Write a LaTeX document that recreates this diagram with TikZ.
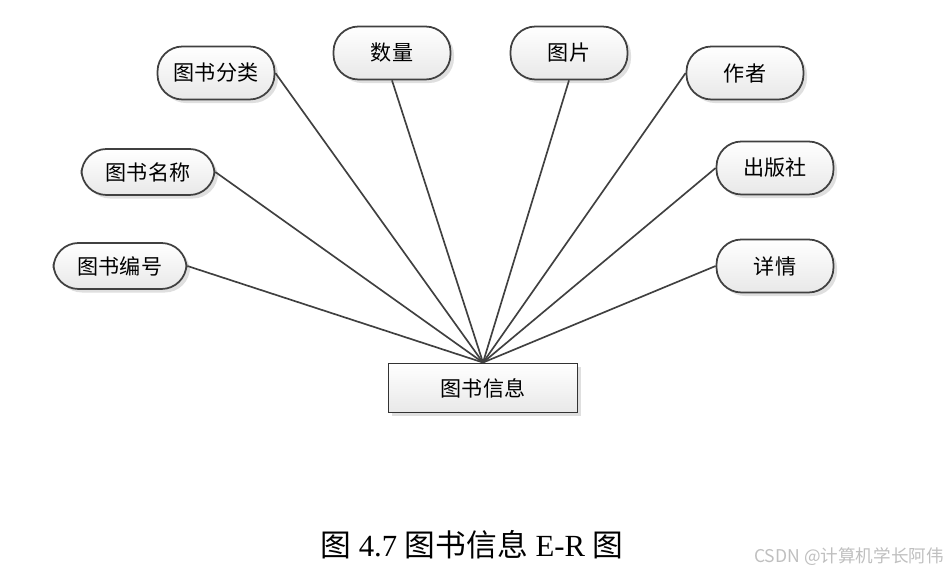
\documentclass[tikz,border=0pt]{standalone}
\usepackage{fontspec}
\setmainfont{Liberation Serif}
\newfontfamily\cjk{Noto Sans CJK SC}
\usepackage{tikz}
\usetikzlibrary{shadows}

\begin{document}
\begin{tikzpicture}[
    x=0.02cm, y=-0.02cm, % one unit is one pixel of the reference
    attr/.style={
        draw=black!75, % dark outline
        line width=1pt,
        rounded corners=0.5cm, % round ends of the attribute boxes
        top color=white, bottom color=black!9, % soft vertical shading
        drop shadow={shadow xshift=2pt, shadow yshift=-2pt, opacity=0.25},
        minimum width=2.34cm, minimum height=1.06cm,
        font=\cjk\fontsize{12}{14}\selectfont
    },
    entity/.style={
        draw=black!80,
        line width=1.1pt,
        top color=white, bottom color=black!9,
        drop shadow={shadow xshift=2pt, shadow yshift=-2pt, opacity=0.25},
        minimum width=3.78cm, minimum height=0.98cm,
        font=\cjk\fontsize{12}{14}\selectfont
    },
    link/.style={draw=black!75, line width=0.95pt}
]
\useasboundingbox (0,0) rectangle (948,574);

% entity
\node[entity] (info) at (483,388) {图书信息};

% attributes
\node[attr] (fenlei) at (216,73) {图书分类};
\node[attr] (shuliang) at (392,53) {数量};
\node[attr] (tupian) at (569,53) {图片};
\node[attr] (zuozhe) at (745,73) {作者};
\node[attr, minimum width=2.66cm, minimum height=0.92cm] (mingcheng) at (148,172) {图书名称};
\node[attr] (chubanshe) at (775,168) {出版社};
\node[attr, minimum width=2.66cm, minimum height=0.92cm] (bianhao) at (120,266) {图书编号};
\node[attr] (xiangqing) at (775,266) {详情};

% connectors
\draw[link] (fenlei.east) -- (info.north);
\draw[link] (shuliang.south) -- (info.north);
\draw[link] (tupian.south) -- (info.north);
\draw[link] (zuozhe.west) -- (info.north);
\draw[link] (mingcheng.east) -- (info.north);
\draw[link] (chubanshe.west) -- (info.north);
\draw[link] (bianhao.east) -- (info.north);
\draw[link] (xiangqing.west) -- (info.north);

% caption and mark
\node[font=\fontsize{17.5}{20}\selectfont] (caption) at (472,545)
    {{\cjk 图} 4.7 {\cjk 图书信息} E-R {\cjk 图}};
\node[font=\cjk\fontsize{10}{12}\selectfont, text=black!25] (mark) at (849,557)
    {CSDN @计算机学长阿伟};
\end{tikzpicture}
\end{document}
